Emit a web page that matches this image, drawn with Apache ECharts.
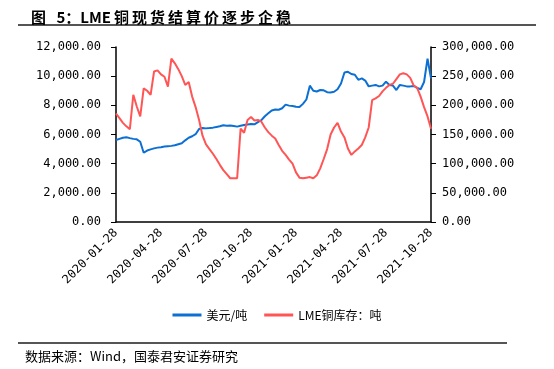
<!DOCTYPE html>
<html><head><meta charset="utf-8">
<script src="https://cdn.jsdelivr.net/npm/echarts@6/dist/echarts.min.js"></script>
<style>html,body{margin:0;padding:0;background:#fff}#c{width:554px;height:369px}</style>
</head><body><div id="c"></div>
<script>
const tickLabels = ['2020-01-28','2020-04-28','2020-07-28','2020-10-28','2021-01-28','2021-04-28','2021-07-28','2021-10-28'];
const stepsPerTick = 13;
// LME copper settlement price, USD/t (weekly-ish samples)
const priceUsd = [5620,5700,5780,5810,5750,5700,5670,5500,4750,4900,4980,5050,5100,5130,5170,5200,5220,5260,5330,5400,
5600,5780,5880,6020,6380,6450,6420,6440,6470,6520,6560,6630,6600,6620,6580,6540,6600,6650,6680,6720,
6700,6850,6980,7250,7450,7650,7720,7700,7800,8050,7980,7960,7900,7880,8100,8400,9350,9000,8950,9050,
9030,8900,8880,8930,9100,9500,10250,10300,10150,10100,9750,9850,9700,9300,9350,9400,9300,9350,9620,9400,
9350,9050,9400,9350,9300,9300,9330,9200,9100,9600,11200,9850];
// LME copper stocks, tonnes
const stockTons = [186000,178000,170000,164000,159000,218000,198000,181000,229000,225000,218000,258000,260000,253000,249000,232000,280000,272000,262000,250000,
235000,240000,215000,197000,175000,148000,133000,125000,117000,108000,98000,89000,82000,75000,75000,75000,160000,153000,175000,180000,
174000,175000,172000,162000,154000,148000,143000,132000,122000,115000,107000,100000,85000,76000,75000,76000,77000,75000,80000,92000,
108000,125000,150000,162000,170000,155000,145000,126000,115000,121000,126000,132000,145000,162000,209000,212000,216000,224000,230000,235000,
237000,245000,253000,255000,253000,247000,234000,230000,215000,197000,181000,160000];
const seriesNames = ['美元/吨','LME铜库存：吨'];
const categories = priceUsd.map((_, i) => i);

const fmt = v => v.toLocaleString('en-US',{minimumFractionDigits:2,maximumFractionDigits:2});
const mono = 'DejaVu Sans Mono';
const cjk = '"Noto Sans CJK SC"';

const chart = echarts.init(document.getElementById('c'), null, {renderer:'canvas'});
chart.setOption({
  animation:false,
  backgroundColor:'#fff',
  title:{
    text:'图\u2002\u20095：LME\u2009铜\u2009现\u2009货\u2009结\u2009算\u2009价\u2009逐\u2009步\u2009企\u2009稳',
    left:26, top:5,
    textStyle:{fontFamily:cjk, fontSize:15, fontWeight:'bold', color:'#000'}
  },
  graphic:[
    {type:'rect', shape:{x:18,y:24,width:518,height:2}, style:{fill:'#555'}},
    {type:'rect', shape:{x:18,y:342,width:489,height:2}, style:{fill:'#555'}},
    {type:'text', left:25, top:350, style:{text:'数据来源：Wind，国泰君安证券研究', font:'13px "Noto Sans CJK SC"', fill:'#000'}}
  ],
  legend:{
    top:304, left:'center',
    itemWidth:29, itemHeight:3, itemGap:17,
    icon:'rect',
    textStyle:{fontFamily:cjk, fontSize:12, color:'#000'},
    data:seriesNames
  },
  grid:{left:116, right:123, top:47, bottom:147, containLabel:false},
  xAxis:{
    type:'category', data:categories, boundaryGap:false,
    axisLine:{lineStyle:{color:'#000', width:1.5}},
    axisTick:{show:false},
    axisLabel:{
      interval:stepsPerTick-1, rotate:45, margin:9,
      fontFamily:mono, fontSize:12, color:'#000',
      formatter:(v, idx) => tickLabels[Math.round(idx/stepsPerTick)] || ''
    },
    splitLine:{show:false}
  },
  yAxis:[
    {type:'value', min:0, max:12000, interval:2000, position:'left',
     axisLine:{show:true, lineStyle:{color:'#000', width:1.5}},
     axisTick:{show:true, length:5, lineStyle:{color:'#000'}},
     axisLabel:{margin:15, fontFamily:mono, fontSize:12, color:'#000', formatter:fmt},
     splitLine:{show:false}},
    {type:'value', min:0, max:300000, interval:50000, position:'right',
     axisLine:{show:true, lineStyle:{color:'#000', width:1.5}},
     axisTick:{show:true, length:5, lineStyle:{color:'#000'}},
     axisLabel:{margin:11, fontFamily:mono, fontSize:12, color:'#000', formatter:fmt},
     splitLine:{show:false}}
  ],
  series:[
    {name:seriesNames[0], type:'line', yAxisIndex:0, data:priceUsd, showSymbol:false, symbol:'none',
     lineStyle:{color:'#0b6fd3', width:2}, itemStyle:{color:'#0b6fd3'}},
    {name:seriesNames[1], type:'line', yAxisIndex:1, data:stockTons, showSymbol:false, symbol:'none',
     lineStyle:{color:'#ff5555', width:2}, itemStyle:{color:'#ff5555'}}
  ]
});
</script></body></html>
